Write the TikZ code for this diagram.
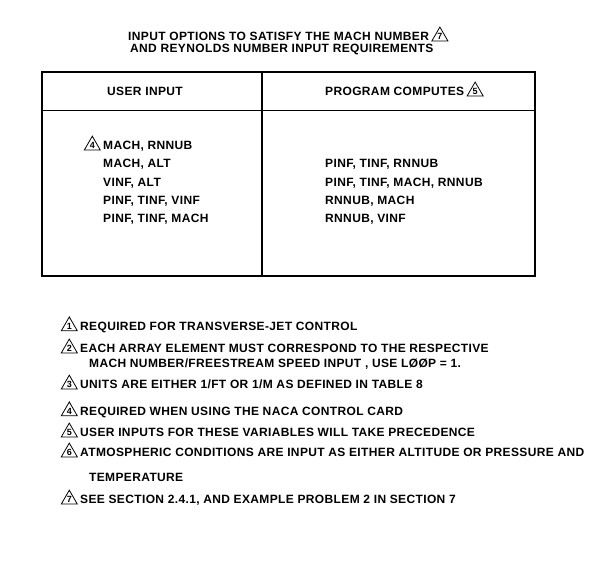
\documentclass[tikz,border=0pt]{standalone}
\usepackage{fontspec}
\setmainfont{Liberation Sans}[LetterSpace=3]
\usetikzlibrary{positioning,shapes.geometric}
\begin{document}
\begin{tikzpicture}[x=1pt,y=-1pt,
  txt/.style={font=\bfseries\fontsize{12}{14}\selectfont,inner sep=0pt,anchor=west},
  note/.style={regular polygon,regular polygon sides=3,draw,line width=0.8pt,
  minimum size=18.5pt,inner sep=0pt,font=\bfseries\fontsize{9}{10}\selectfont},
  noteleft/.style={note,anchor=corner 3,xshift=-2pt,yshift=-1.2pt},
  noteright/.style={note,anchor=corner 2,xshift=2pt,yshift=-1.2pt},
  rule/.style={line width=1.2pt}]
  \useasboundingbox (0,0) rectangle (612,566);
  \node[txt] (title1) at (128,36) {INPUT OPTIONS TO SATISFY THE MACH NUMBER};
  \node[noteright] (n7) at (title1.base east) {7};
  \node[txt] (title2) at (130,49) {AND REYNOLDS NUMBER INPUT REQUIREMENTS};

  \coordinate (tl) at (42,72);
  \coordinate (br) at (535,276);
  \coordinate (htop) at (262,72);
  \coordinate (hbot) at (262,276);
  \coordinate (hl) at (42,110);
  \coordinate (hr) at (535,110);
  \draw[rule] (tl) rectangle (br);
  \draw[rule] (htop) -- (hbot);
  \draw[line width=0.8pt] (hl) -- (hr);

  \node[txt,anchor=center] (user) at (145,91) {USER INPUT};
  \node[txt] (prog) at (325,91) {PROGRAM COMPUTES};
  \node[noteright] (n5) at (prog.base east) {5};

  \node[txt] (u1) at (103,146) {MACH, RNNUB};
  \node[noteleft] (n4) at (u1.base west) {4};
  \node[txt] (u2) at (103,164) {MACH, ALT};
  \node[txt] (u3) at (103,183) {VINF, ALT};
  \node[txt] (u4) at (103,201) {PINF, TINF, VINF};
  \node[txt] (u5) at (103,219) {PINF, TINF, MACH};
  \node[txt] (p2) at (325,164) {PINF, TINF, RNNUB};
  \node[txt] (p3) at (325,183) {PINF, TINF, MACH, RNNUB};
  \node[txt] (p4) at (325,201) {RNNUB, MACH};
  \node[txt] (p5) at (325,219) {RNNUB, VINF};

  \node[txt] (f1) at (80,327) {REQUIRED FOR TRANSVERSE-JET CONTROL};
  \node[noteleft] at (f1.base west) {1};
  \node[txt] (f2) at (80,348) {EACH ARRAY ELEMENT MUST CORRESPOND TO THE RESPECTIVE};
  \node[noteleft] at (f2.base west) {2};
  \node[txt] (f2b) at (89,364) {MACH NUMBER/FREESTREAM SPEED INPUT , USE LØØP = 1.};
  \node[txt] (f3) at (80,384) {UNITS ARE EITHER 1/FT OR 1/M AS DEFINED IN TABLE 8};
  \node[noteleft] at (f3.base west) {3};
  \node[txt] (f4) at (80,412) {REQUIRED WHEN USING THE NACA CONTROL CARD};
  \node[noteleft] at (f4.base west) {4};
  \node[txt] (f5) at (80,432) {USER INPUTS FOR THESE VARIABLES WILL TAKE PRECEDENCE};
  \node[noteleft] at (f5.base west) {5};
  \node[txt] (f6) at (80,452) {ATMOSPHERIC CONDITIONS ARE INPUT AS EITHER ALTITUDE OR PRESSURE AND};
  \node[noteleft] at (f6.base west) {6};
  \node[txt] (f6b) at (89,477) {TEMPERATURE};
  \node[txt] (f7) at (80,500) {SEE SECTION 2.4.1, AND EXAMPLE PROBLEM 2 IN SECTION 7};
  \node[noteleft] at (f7.base west) {7};
\end{tikzpicture}
\end{document}
